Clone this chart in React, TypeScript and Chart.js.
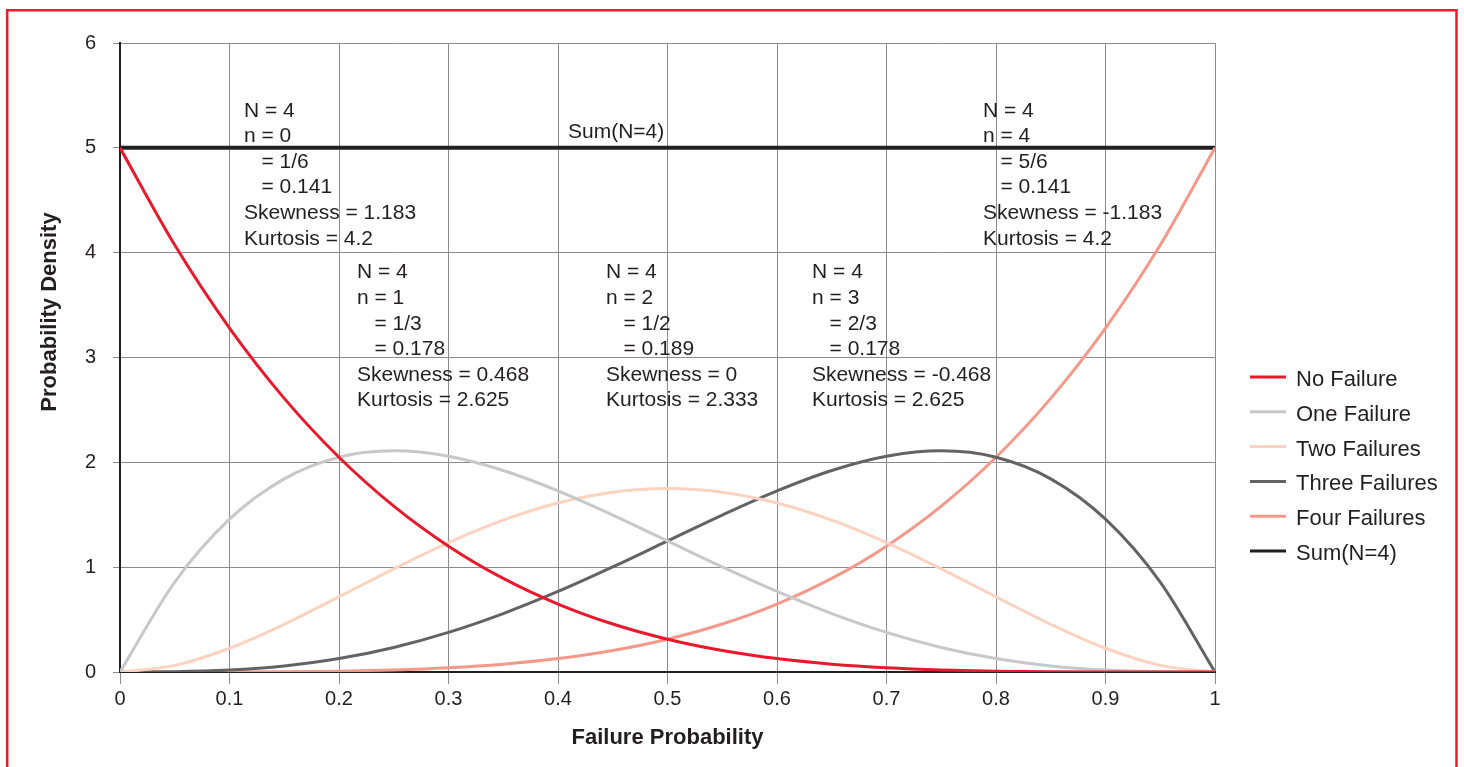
import React, { useEffect, useRef } from 'react';
import { Chart, registerables } from 'chart.js';

Chart.register(...registerables);

// ---- data ----
const X_VALUES = [0, 0.05, 0.1, 0.15, 0.2, 0.25, 0.3, 0.35, 0.4, 0.45, 0.5, 0.55, 0.6, 0.65, 0.7, 0.75, 0.8, 0.85, 0.9, 0.95, 1];
const NO_FAILURE = [5, 4.0725, 3.2805, 2.61, 2.048, 1.582, 1.2005, 0.8925, 0.648, 0.4575, 0.3125, 0.205, 0.128, 0.075, 0.0405, 0.0195, 0.008, 0.0025, 0.0005, 0.0, 0];
const ONE_FAILURE = [0, 0.8574, 1.458, 1.8424, 2.048, 2.1094, 2.058, 1.9224, 1.728, 1.4974, 1.25, 1.0024, 0.768, 0.5574, 0.378, 0.2344, 0.128, 0.0574, 0.018, 0.0024, 0];
const TWO_FAILURES = [0, 0.0632, 0.2268, 0.4552, 0.7168, 0.9844, 1.2348, 1.4492, 1.6128, 1.7152, 1.75, 1.7152, 1.6128, 1.4492, 1.2348, 0.9844, 0.7168, 0.4552, 0.2268, 0.0632, 0];
const THREE_FAILURES = [0, 0.0024, 0.018, 0.0574, 0.128, 0.2344, 0.378, 0.5574, 0.768, 1.0024, 1.25, 1.4974, 1.728, 1.9224, 2.058, 2.1094, 2.048, 1.8424, 1.458, 0.8574, 0];
const FOUR_FAILURES = [0, 0.0, 0.0005, 0.0025, 0.008, 0.0195, 0.0405, 0.075, 0.128, 0.205, 0.3125, 0.4575, 0.648, 0.8925, 1.2005, 1.582, 2.048, 2.61, 3.2805, 4.0725, 5];
const SUM_N4 = [5, 5, 5, 5, 5, 5, 5, 5, 5, 5, 5, 5, 5, 5, 5, 5, 5, 5, 5, 5, 5];

const SERIES_LABELS = ['No Failure', 'One Failure', 'Two Failures', 'Three Failures', 'Four Failures', 'Sum(N=4)'];
const SERIES_VALUES = [NO_FAILURE, ONE_FAILURE, TWO_FAILURES, THREE_FAILURES, FOUR_FAILURES, SUM_N4];

const X_TITLE = 'Failure Probability';
const Y_TITLE = 'Probability Density';

const BLOCK_N0 = ['N = 4', 'n = 0', '   = 1/6', '   = 0.141', 'Skewness = 1.183', 'Kurtosis = 4.2'];
const BLOCK_N1 = ['N = 4', 'n = 1', '   = 1/3', '   = 0.178', 'Skewness = 0.468', 'Kurtosis = 2.625'];
const BLOCK_N2 = ['N = 4', 'n = 2', '   = 1/2', '   = 0.189', 'Skewness = 0', 'Kurtosis = 2.333'];
const BLOCK_N3 = ['N = 4', 'n = 3', '   = 2/3', '   = 0.178', 'Skewness = -0.468', 'Kurtosis = 2.625'];
const BLOCK_N4 = ['N = 4', 'n = 4', '   = 5/6', '   = 0.141', 'Skewness = -1.183', 'Kurtosis = 4.2'];
const SUM_LABEL = ['Sum(N=4)'];

// ---- styles / positions ----
const COLORS = ['#e8192c', '#c8c8c8', '#fcd3c1', '#636363', '#f4998a', '#231f20'];
const WIDTHS = [3, 3, 3, 3, 3, 4];
const FONT = '"Liberation Sans", Arial, Helvetica, sans-serif';
const TEXT_COLOR = '#231f20';
const GRID_COLOR = '#8c8c8c';
const FRAME_COLOR = '#ec1c2e';

// anchor = data coords of first-line baseline
const ANNOTATIONS = [
  { x: 0.1132, y: 5.297, lines: BLOCK_N0 },
  { x: 0.2164, y: 3.755, lines: BLOCK_N1 },
  { x: 0.4438, y: 3.755, lines: BLOCK_N2 },
  { x: 0.632, y: 3.755, lines: BLOCK_N3 },
  { x: 0.7881, y: 5.297, lines: BLOCK_N4 },
  { x: 0.4091, y: 5.094, lines: SUM_LABEL },
];
const LINE_H = 25.6;

const overlayPlugin = {
  id: 'overlay',
  beforeDraw(chart: any) {
    const { ctx } = chart;
    ctx.save();
    ctx.fillStyle = '#ffffff';
    ctx.fillRect(0, 0, chart.width, chart.height);
    ctx.strokeStyle = FRAME_COLOR;
    ctx.lineWidth = 2.5;
    ctx.beginPath();
    ctx.moveTo(7.2, chart.height + 5);
    ctx.lineTo(7.2, 10.2);
    ctx.lineTo(1456.5, 10.2);
    ctx.lineTo(1456.5, chart.height + 5);
    ctx.stroke();
    ctx.restore();
  },
  afterDatasetsDraw(chart: any) {
    const { ctx, chartArea, scales } = chart;
    ctx.save();
    // annotations
    ctx.font = `21px ${FONT}`;
    ctx.fillStyle = TEXT_COLOR;
    ctx.textAlign = 'left';
    ctx.textBaseline = 'alphabetic';
    for (const a of ANNOTATIONS) {
      const px = scales.x.getPixelForValue(a.x);
      const py = scales.y.getPixelForValue(a.y);
      a.lines.forEach((t, i) => ctx.fillText(t, px, py + i * LINE_H));
    }
    // legend
    const ds = chart.data.datasets;
    ctx.font = `22px ${FONT}`;
    ds.forEach((d: any, i: number) => {
      const ly = chartArea.top + 334 + i * 34.8;
      ctx.strokeStyle = d.borderColor;
      ctx.lineWidth = 3;
      ctx.beginPath();
      ctx.moveTo(chartArea.right + 35, ly);
      ctx.lineTo(chartArea.right + 71, ly);
      ctx.stroke();
      ctx.fillStyle = TEXT_COLOR;
      ctx.fillText(d.label, chartArea.right + 81, ly + 8.9);
    });
    // y title
    ctx.font = `bold 22px ${FONT}`;
    ctx.translate(49.5, 312);
    ctx.rotate(-Math.PI / 2);
    ctx.textAlign = 'center';
    ctx.textBaseline = 'middle';
    ctx.fillText(Y_TITLE, 0, 0);
    ctx.restore();
  },
};

export default function App() {
  const ref = useRef<HTMLCanvasElement>(null);
  useEffect(() => {
    if (!ref.current) return;
    Chart.defaults.font.family = FONT;
    Chart.defaults.color = TEXT_COLOR;
    const chart = new Chart(ref.current, {
      type: 'line',
      data: {
        datasets: SERIES_LABELS.map((label, i) => ({
          label,
          data: X_VALUES.map((x, j) => ({ x, y: SERIES_VALUES[i][j] })),
          borderColor: COLORS[i],
          backgroundColor: COLORS[i],
          borderWidth: WIDTHS[i],
          pointRadius: 0,
          cubicInterpolationMode: 'monotone' as const,
          fill: false,
        })),
      },
      options: {
        responsive: false,
        animation: false,
        devicePixelRatio: 1,
        layout: { padding: { top: 43, left: 0, right: 249, bottom: 0 } },
        plugins: { legend: { display: false }, tooltip: { enabled: false } },
        scales: {
          x: {
            type: 'linear',
            min: 0,
            max: 1,
            afterFit: (s: any) => { s.height = 95; },
            ticks: {
              stepSize: 0.1,
              padding: 3.5,
              font: { size: 20 },
              color: TEXT_COLOR,
              maxRotation: 0,
              callback: (v: any) => String(Math.round(Number(v) * 10) / 10),
            },
            grid: { color: GRID_COLOR, lineWidth: 1, tickLength: 12, tickColor: GRID_COLOR },
            border: { color: TEXT_COLOR, width: 2 },
            title: {
              display: true,
              text: X_TITLE,
              font: { size: 22, weight: 'bold' },
              color: TEXT_COLOR,
              padding: { top: 0, bottom: 16 },
            },
          },
          y: {
            type: 'linear',
            min: 0,
            max: 6,
            afterFit: (s: any) => { s.width = 120; },
            ticks: { stepSize: 1, padding: 17, font: { size: 20 }, color: TEXT_COLOR },
            grid: { color: GRID_COLOR, lineWidth: 1, tickLength: 7, tickColor: GRID_COLOR },
            border: { color: TEXT_COLOR, width: 2 },
          },
        },
      },
      plugins: [overlayPlugin],
    });
    return () => chart.destroy();
  }, []);

  return (
    <div style={{ position: 'fixed', left: 0, top: 0, width: 1464, height: 767, overflow: 'hidden', background: '#fff' }}>
      <canvas ref={ref} width={1464} height={767} style={{ display: 'block', width: 1464, height: 767 }} />
    </div>
  );
}
